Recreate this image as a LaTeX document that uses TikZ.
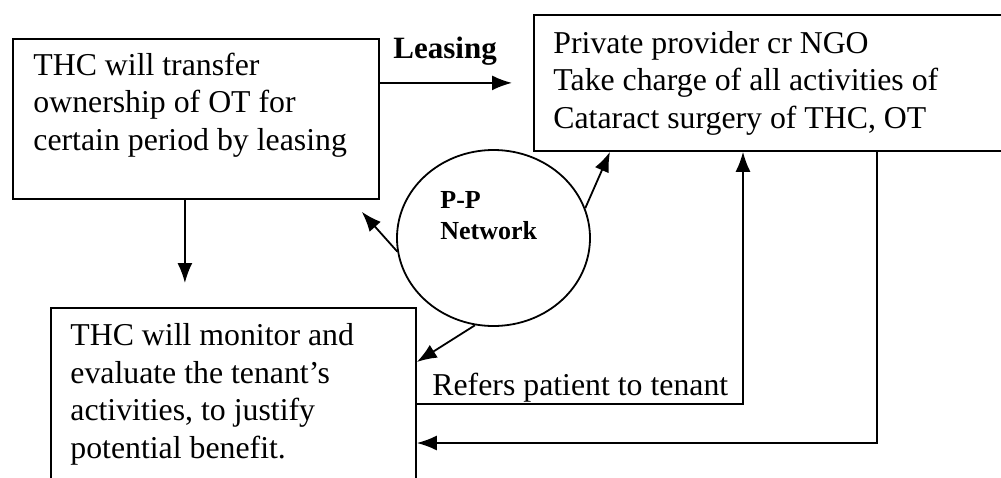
\documentclass[tikz,border=0pt]{standalone}
\usepackage{fontspec}
\setmainfont{Liberation Serif}
\usetikzlibrary{arrows.meta,shapes.geometric}

\begin{document}
\begin{tikzpicture}[x=0.5pt,y=-0.5pt,
  box/.style={draw, line width=0.9pt, rectangle, inner sep=0pt, anchor=north west},
  txt/.style={align=left, inner sep=0pt, anchor=base west, font=\fontsize{15.9}{18.75}\selectfont},
  arr/.style={line width=0.9pt, -{Latex[length=10pt,width=7.5pt]}}]
  \useasboundingbox (0,0) rectangle (1001,477);
  \clip (0,0) rectangle (1001,477);

  \node [box, minimum width=183pt, minimum height=80pt] (thc) at (12,38) {};
  \node [box, minimum width=238.5pt, minimum height=68pt] (prov) at (533,14) {};
  \node [box, minimum width=182.5pt, minimum height=96.5pt] (mon) at (50,307) {};
  \node [draw, line width=0.9pt, ellipse, inner sep=0pt, minimum width=96.5pt, minimum height=88pt] (net) at (493.5,238) {};

  \node [txt] (thctxt) at (33,150) {THC will transfer\\ownership of OT for\\certain period by leasing};
  \node [txt] (provtxt) at (553,128) {Private provider cr NGO\\Take charge of all activities of\\Cataract surgery of THC, OT};
  \node [txt] (montxt) at (70,458) {THC will monitor and\\evaluate the tenant's\\activities, to justify\\potential benefit.};
  \node [txt, font=\bfseries\fontsize{13}{15.5}\selectfont] (nettxt) at (440,239) {P-P\\Network};
  \node [txt, font=\bfseries\fontsize{15.5}{18.75}\selectfont] (lease) at (393,58) {Leasing};
  \node [txt] (refers) at (432,395) {Refers patient to tenant};

  \coordinate (a1) at ([xshift=-5.5pt]thc.south);

  \draw [arr, shorten >=10.5pt] (thc.east |- prov.west) -- (prov.west);
  \draw [arr, shorten >=12pt] (a1) -- (a1 |- mon.north);
  \draw [arr] (net.188) -- ([xshift=-9pt,yshift=-6pt]thc.south east);
  \draw [arr] (net.18) -- ([xshift=38.5pt]prov.south west);
  \draw [arr] (net.258) -- ([yshift=-27.5pt]mon.north east);
  \draw [arr] ([yshift=-48.5pt]mon.north east) -| ([xshift=105pt]prov.south west);
  \draw [arr] ([xshift=172pt]prov.south west) |- ([yshift=-68pt]mon.north east);
\end{tikzpicture}
\end{document}
